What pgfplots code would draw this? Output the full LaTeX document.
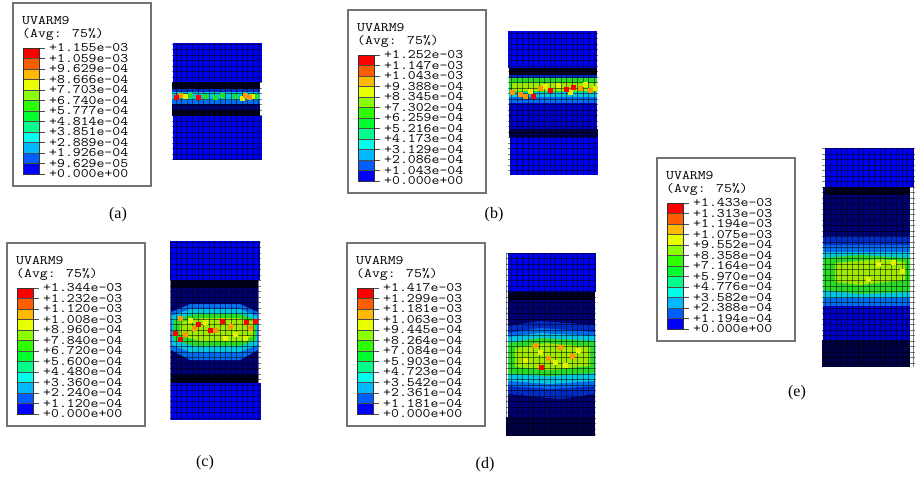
\documentclass[border=0pt]{standalone}
\usepackage{pgfplots}
\pgfplotsset{compat=1.18}
\usepackage{fontspec}
\setmainfont{Liberation Serif}
\usepackage{graphicx}
\definecolor{c1}{RGB}{0,0,255}
\definecolor{c2}{RGB}{0,93,255}
\definecolor{c3}{RGB}{0,185,255}
\definecolor{c4}{RGB}{0,255,232}
\definecolor{c5}{RGB}{0,255,139}
\definecolor{c6}{RGB}{0,255,46}
\definecolor{c7}{RGB}{46,255,0}
\definecolor{c8}{RGB}{139,255,0}
\definecolor{c9}{RGB}{232,255,0}
\definecolor{c10}{RGB}{255,185,0}
\definecolor{c11}{RGB}{255,93,0}
\definecolor{c12}{RGB}{255,0,0}
\definecolor{bb}{RGB}{0,0,240}
\definecolor{bb2}{RGB}{0,0,205}
\definecolor{dk}{RGB}{0,0,30}
\definecolor{dk2}{RGB}{0,0,70}
\definecolor{nv}{RGB}{0,0,115}
\definecolor{mb}{RGB}{0,45,200}
\definecolor{lb}{RGB}{0,110,240}
\definecolor{cy}{RGB}{0,200,225}
\definecolor{gr}{RGB}{40,220,40}
\definecolor{yg}{RGB}{160,235,0}
\definecolor{ye}{RGB}{230,240,0}
\definecolor{orn}{RGB}{255,150,0}
\newcommand\abq[1]{\scalebox{1.18}[1]{\ttfamily\fontsize{13}{13}\selectfont #1}}
\newcommand\lab[2]{\node[anchor=west,inner sep=0pt] at (axis cs:36,#1) {\abq{#2}};}
\newcommand\R[5]{\addplot[fill=#5, draw=none] coordinates {(#1,#2) (#3,#2) (#3,#4) (#1,#4)};}
\newcommand\legframe{%
  \draw[black!55, line width=1.1pt] (axis cs:0,0) rectangle (axis cs:138,183);
  \node[anchor=west,inner sep=0pt] at (axis cs:9,18) {\abq{UVARM9}};
  \node[anchor=west,inner sep=0pt] at (axis cs:9,31) {\abq{(Avg: 75\%)}};
  \fill[c12] (axis cs:10,45) rectangle (axis cs:26,55.5);
  \fill[c11] (axis cs:10,55.5) rectangle (axis cs:26,66);
  \fill[c10] (axis cs:10,66) rectangle (axis cs:26,76.5);
  \fill[c9] (axis cs:10,76.5) rectangle (axis cs:26,87);
  \fill[c8] (axis cs:10,87) rectangle (axis cs:26,97.5);
  \fill[c7] (axis cs:10,97.5) rectangle (axis cs:26,108);
  \fill[c6] (axis cs:10,108) rectangle (axis cs:26,118.5);
  \fill[c5] (axis cs:10,118.5) rectangle (axis cs:26,129);
  \fill[c4] (axis cs:10,129) rectangle (axis cs:26,139.5);
  \fill[c3] (axis cs:10,139.5) rectangle (axis cs:26,150);
  \fill[c2] (axis cs:10,150) rectangle (axis cs:26,160.5);
  \fill[c1] (axis cs:10,160.5) rectangle (axis cs:26,171);
  \pgfplotsinvokeforeach{45,55.5,66,76.5,87,97.5,108,118.5,129,139.5,150,160.5,171}{
    \draw[black!70, line width=0.5pt] (axis cs:10,##1) -- (axis cs:32,##1);}
  \draw[black!80, line width=0.7pt] (axis cs:10,45) rectangle (axis cs:26,171);
}
\pgfplotsset{
  legendax/.style={anchor=north west, scale only axis, width=138pt, height=183pt,
    xmin=0, xmax=138, ymin=0, ymax=183, y dir=reverse, hide axis, clip=false},
  specax/.style={anchor=north west, scale only axis, y dir=reverse, axis on top,
    grid=major, xtick distance=5.5, ytick distance=5.5,
    major grid style={black, line width=0.75pt, opacity=0.5},
    tick style={draw=none},
    xticklabel style={opacity=0, font=\tiny}, yticklabel style={opacity=0, font=\tiny},
    xticklabels={}, yticklabels={},
    axis line style={draw=none}},
}
\begin{document}
\begin{tikzpicture}
\path (0,0) rectangle (924pt,-477pt);
% ---------------- legends ----------------
\begin{axis}[legendax, at={(13pt,-3pt)}]
\legframe
\lab{45}{+1.155e-03}\lab{55.5}{+1.059e-03}\lab{66}{+9.629e-04}\lab{76.5}{+8.666e-04}
\lab{87}{+7.703e-04}\lab{97.5}{+6.740e-04}\lab{108}{+5.777e-04}\lab{118.5}{+4.814e-04}
\lab{129}{+3.851e-04}\lab{139.5}{+2.889e-04}\lab{150}{+1.926e-04}\lab{160.5}{+9.629e-05}
\lab{171}{+0.000e+00}
\end{axis}
\begin{axis}[legendax, at={(348pt,-10pt)}]
\legframe
\lab{45}{+1.252e-03}\lab{55.5}{+1.147e-03}\lab{66}{+1.043e-03}\lab{76.5}{+9.388e-04}
\lab{87}{+8.345e-04}\lab{97.5}{+7.302e-04}\lab{108}{+6.259e-04}\lab{118.5}{+5.216e-04}
\lab{129}{+4.173e-04}\lab{139.5}{+3.129e-04}\lab{150}{+2.086e-04}\lab{160.5}{+1.043e-04}
\lab{171}{+0.000e+00}
\end{axis}
\begin{axis}[legendax, at={(7pt,-243pt)}]
\legframe
\lab{45}{+1.344e-03}\lab{55.5}{+1.232e-03}\lab{66}{+1.120e-03}\lab{76.5}{+1.008e-03}
\lab{87}{+8.960e-04}\lab{97.5}{+7.840e-04}\lab{108}{+6.720e-04}\lab{118.5}{+5.600e-04}
\lab{129}{+4.480e-04}\lab{139.5}{+3.360e-04}\lab{150}{+2.240e-04}\lab{160.5}{+1.120e-04}
\lab{171}{+0.000e+00}
\end{axis}
\begin{axis}[legendax, at={(347pt,-243pt)}]
\legframe
\lab{45}{+1.417e-03}\lab{55.5}{+1.299e-03}\lab{66}{+1.181e-03}\lab{76.5}{+1.063e-03}
\lab{87}{+9.445e-04}\lab{97.5}{+8.264e-04}\lab{108}{+7.084e-04}\lab{118.5}{+5.903e-04}
\lab{129}{+4.723e-04}\lab{139.5}{+3.542e-04}\lab{150}{+2.361e-04}\lab{160.5}{+1.181e-04}
\lab{171}{+0.000e+00}
\end{axis}
\begin{axis}[legendax, at={(657pt,-158pt)}]
\legframe
\lab{45}{+1.433e-03}\lab{55.5}{+1.313e-03}\lab{66}{+1.194e-03}\lab{76.5}{+1.075e-03}
\lab{87}{+9.552e-04}\lab{97.5}{+8.358e-04}\lab{108}{+7.164e-04}\lab{118.5}{+5.970e-04}
\lab{129}{+4.776e-04}\lab{139.5}{+3.582e-04}\lab{150}{+2.388e-04}\lab{160.5}{+1.194e-04}
\lab{171}{+0.000e+00}
\end{axis}
% ---------------- specimen (a) ----------------
\begin{axis}[specax, at={(172pt,-43pt)}, width=90pt, height=117pt,
  xmin=172, xmax=262, ymin=43, ymax=160]
\R{173}{43}{262}{82}{bb}
\R{172}{82}{260}{116}{nv}
\R{172}{82}{260}{89}{dk}
\R{172}{89}{260}{92}{mb}
\R{172}{92}{260}{100}{cy}
\R{172}{100}{260}{104}{lb}
\R{172}{110}{260}{116}{dk}
\R{173}{116}{262}{160}{bb}
\addplot[only marks, mark=square*, mark size=1.8pt, gr] coordinates {(190,95) (205,96) (215,97) (235,96) (256,96) (222,95)};
\addplot[only marks, mark=square*, mark size=1.8pt, ye] coordinates {(185,96) (242,98) (252,96)};
\addplot[only marks, mark=square*, mark size=1.8pt, orn] coordinates {(180,95) (245,95) (249,97)};
\addplot[only marks, mark=square*, mark size=1.8pt, red] coordinates {(176,97) (198,97)};
\end{axis}
% ---------------- specimen (b) ----------------
\begin{axis}[specax, at={(508pt,-31pt)}, width=90pt, height=144pt,
  xmin=508, xmax=598, ymin=31, ymax=175]
\R{508}{31}{597}{68}{bb}
\R{509}{68}{597}{137}{bb2}
\R{509}{68}{597}{75}{dk}
\R{509}{75}{597}{79}{mb}
\R{509}{96}{597}{103}{lb}
\R{509}{91}{597}{97}{cy}
\R{509}{78}{597}{92}{gr}
\R{512}{83}{597}{91}{yg}
\addplot[only marks, mark=square*, mark size=1.8pt, ye] coordinates {(545,86) (558,85) (585,84) (530,91) (570,92) (595,88)};
\addplot[only marks, mark=square*, mark size=1.8pt, orn] coordinates {(520,94) (525,96) (540,88) (580,88) (590,90) (512,92)};
\addplot[only marks, mark=square*, mark size=1.8pt, red] coordinates {(550,90) (566,89) (573,87) (533,96)};
\R{509}{129}{598}{137}{dk2}
\R{510}{137}{598}{175}{bb}
\end{axis}
% ---------------- specimen (c) ----------------
\begin{axis}[specax, at={(170pt,-241pt)}, width=91pt, height=179pt,
  xmin=170, xmax=261, ymin=241, ymax=420]
\R{170}{241}{260}{280}{bb}
\R{171}{280}{258}{383}{nv}
\R{171}{280}{258}{288}{dk}
\addplot[fill=lb, draw=none] coordinates {(171,312) (190,304) (240,304) (258,312) (258,350) (240,360) (190,360) (171,350)};
\addplot[fill=cy, draw=none] coordinates {(172,316) (190,309) (240,309) (257,316) (257,345) (240,352) (190,352) (172,345)};
\addplot[fill=gr, draw=none] coordinates {(174,320) (195,314) (240,314) (256,320) (256,340) (240,346) (195,346) (174,340)};
\addplot[fill=yg, draw=none] coordinates {(180,322) (200,318) (240,318) (254,322) (254,336) (240,341) (200,341) (180,336)};
\addplot[only marks, mark=square*, mark size=1.8pt, ye] coordinates {(205,322) (235,334) (225,338) (190,320) (245,338)};
\addplot[only marks, mark=square*, mark size=1.8pt, orn] coordinates {(180,318) (194,328) (215,330) (230,326) (250,328) (185,334)};
\addplot[only marks, mark=square*, mark size=1.8pt, red] coordinates {(175,333) (198,324) (222,321) (246,322) (255,321) (180,339) (210,330)};
\R{171}{375}{258}{383}{dk}
\R{171}{383}{261}{420}{bb}
\end{axis}
% ---------------- specimen (d) ----------------
\begin{axis}[specax, at={(506pt,-253pt)}, width=90pt, height=183pt,
  xmin=506, xmax=596, ymin=253, ymax=436]
\R{508}{253}{596}{292}{bb}
\R{508}{292}{595}{417}{nv}
\R{508}{292}{595}{300}{dk}
\addplot[fill=mb, draw=none] coordinates {(508,326) (540,321) (595,325) (595,394) (560,399) (508,394)};
\addplot[fill=lb, draw=none] coordinates {(508,333) (540,328) (595,332) (595,386) (550,389) (508,386)};
\addplot[fill=cy, draw=none] coordinates {(508,337) (540,333) (595,336) (595,381) (550,384) (508,381)};
\addplot[fill=gr, draw=none] coordinates {(508,343) (540,338) (595,341) (595,373) (550,376) (508,374)};
\addplot[fill=yg, draw=none] coordinates {(515,348) (545,343) (590,347) (590,366) (550,370) (515,367)};
\addplot[only marks, mark=square*, mark size=1.8pt, ye] coordinates {(540,352) (555,362) (578,350) (525,360) (565,365)};
\addplot[only marks, mark=square*, mark size=1.8pt, orn] coordinates {(535,345) (560,347) (572,356) (548,358)};
\addplot[only marks, mark=square*, mark size=1.8pt, red] coordinates {(541,367)};
\R{506}{417}{595}{436}{dk2}
\end{axis}
% ---------------- specimen (e) ----------------
\begin{axis}[specax, at={(822pt,-148pt)}, width=93pt, height=219pt,
  xmin=822, xmax=915, ymin=148, ymax=367]
\R{825}{148}{914}{187}{bb}
\R{823}{187}{910}{345}{nv}
\R{825}{187}{910}{195}{dk}
\R{823}{236}{910}{318}{mb}
\R{823}{245}{910}{306}{lb}
\R{823}{252}{910}{298}{cy}
\R{823}{306}{910}{340}{bb2}
\addplot[fill=gr, draw=none] coordinates {(823,258) (860,255) (910,258) (910,292) (860,294) (823,290)};
\addplot[fill=yg, draw=none] coordinates {(835,263) (880,259) (905,262) (905,280) (860,285) (835,282)};
\addplot[only marks, mark=square*, mark size=1.8pt, ye] coordinates {(868,279) (878,264) (893,262) (902,271)};
\R{822}{340}{910}{367}{dk2}
\end{axis}
% ---------------- captions ----------------
\node[font=\fontsize{16}{16}\selectfont] at (118pt,-215pt) {(a)};
\node[font=\fontsize{16}{16}\selectfont] at (494pt,-215pt) {(b)};
\node[font=\fontsize{16}{16}\selectfont] at (205pt,-463pt) {(c)};
\node[font=\fontsize{16}{16}\selectfont] at (485pt,-465pt) {(d)};
\node[font=\fontsize{16}{16}\selectfont] at (797pt,-393pt) {(e)};
\end{tikzpicture}
\end{document}
